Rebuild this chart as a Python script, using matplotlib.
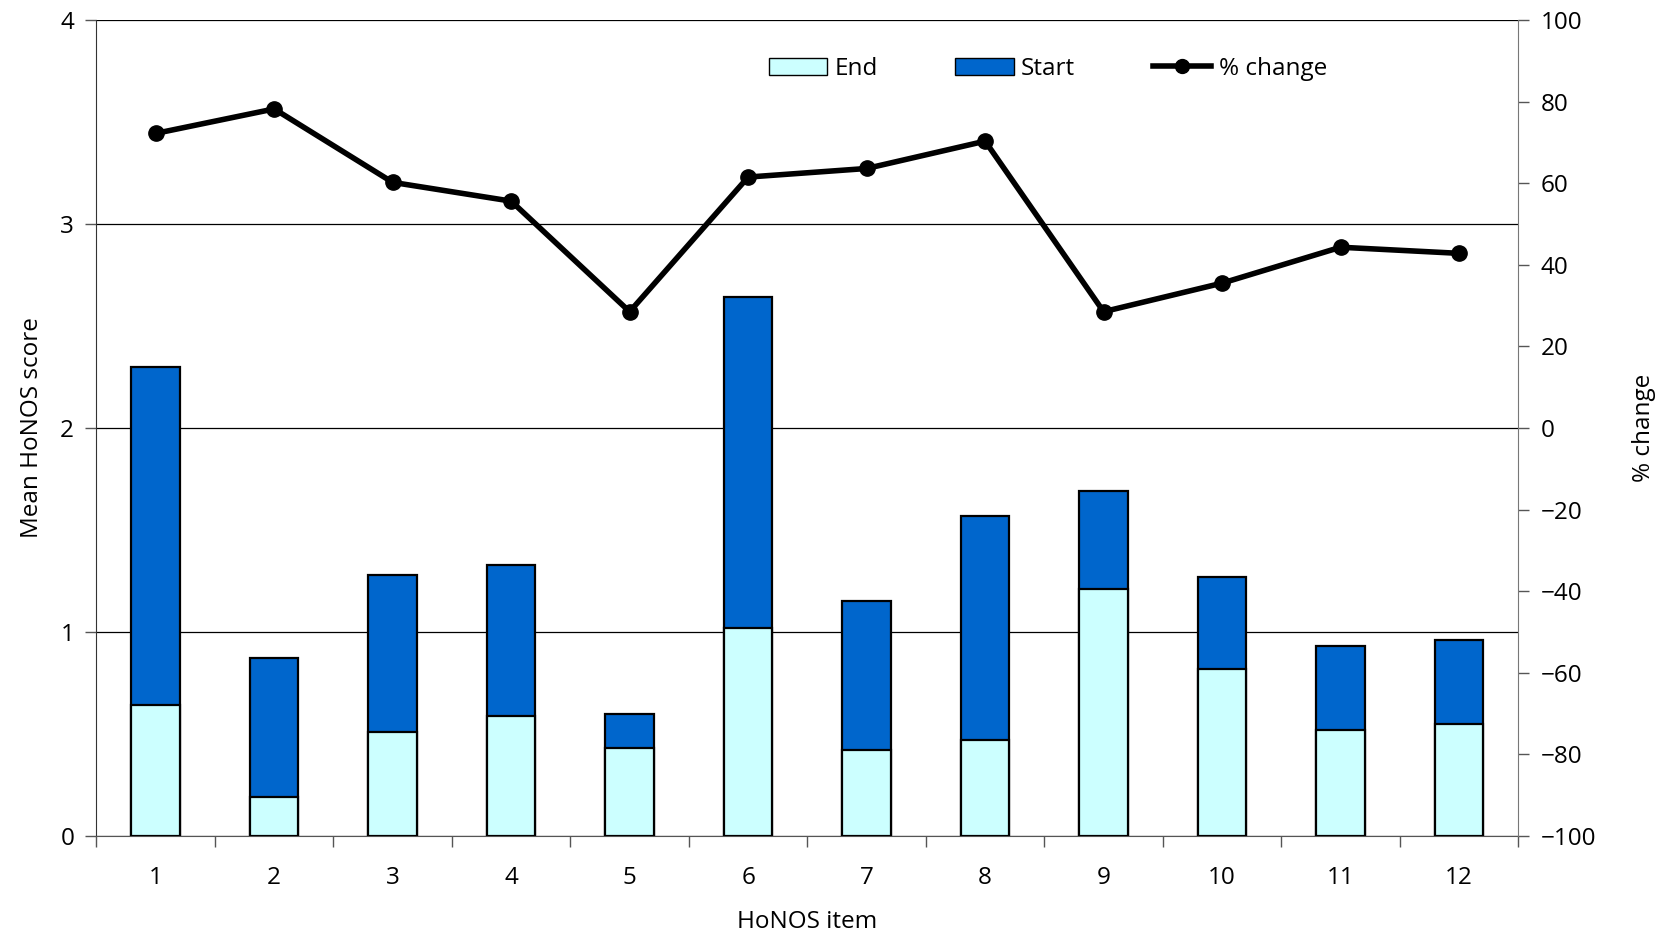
import matplotlib
matplotlib.use("Agg")
import matplotlib.pyplot as plt
import matplotlib.patches as mpatches
from matplotlib.lines import Line2D
import numpy as np

# ── Data ──────────────────────────────────────────────────────────────────────
items       = [1, 2, 3, 4, 5, 6, 7, 8, 9, 10, 11, 12]
start_score = [2.30, 0.87, 1.28, 1.33, 0.60, 2.64, 1.15, 1.57, 1.69, 1.27, 0.93, 0.96]
end_score   = [0.64, 0.19, 0.51, 0.59, 0.43, 1.02, 0.42, 0.47, 1.21, 0.82, 0.52, 0.55]
pct_change  = [72.2, 78.2, 60.2, 55.6, 28.5, 61.5, 63.6, 70.3, 28.5, 35.5, 44.3, 42.8]

START_COLOR = "#0066CC"
END_COLOR   = "#CCFFFF"
FONT        = "Open Sans"
FS          = 17.5

plt.rcParams["font.family"] = [FONT, "DejaVu Sans"]

fig = plt.figure(figsize=(16.63, 9.34), dpi=100)
ax = fig.add_axes([0.058, 0.105, 0.855, 0.8736])

x = np.arange(1, len(items) + 1)
width = 0.41

# Start bar behind, End bar in front (overlapping, not stacked)
ax.bar(x, start_score, width, color=START_COLOR, edgecolor="black", linewidth=1.6, zorder=2)
ax.bar(x, end_score, width, color=END_COLOR, edgecolor="black", linewidth=1.6, zorder=3)

ax.set_xlim(0.5, 12.5)
ax.set_ylim(0, 4)
ax.set_yticks([0, 1, 2, 3, 4])
ax.grid(axis="y", color="black", linewidth=0.9, zorder=0)
ax.set_axisbelow(True)

# major ticks between categories, labels at centres
ax.set_xticks(np.arange(0.5, 13.0, 1.0))
ax.set_xticklabels([])
ax.set_xticks(x, minor=True)
ax.set_xticklabels([str(i) for i in items], minor=True, fontsize=FS)
ax.tick_params(axis="x", which="minor", length=0, pad=22)
ax.tick_params(axis="x", which="major", length=8, width=1, color="#555555", direction="out")
ax.tick_params(axis="y", length=8, width=1, labelsize=FS, color="#555555", pad=8)

for side in ["top", "right"]:
    ax.spines[side].set_visible(False)
ax.spines["left"].set_color("#333333")
ax.spines["bottom"].set_color("#555555")

ax.set_ylabel("Mean HoNOS score", fontsize=FS, labelpad=12)
ax.set_xlabel("HoNOS item", fontsize=FS, labelpad=14)

# ── Secondary axis: % change ─────────────────────────────────────────────────
ax2 = ax.twinx()
ax2.plot(x, pct_change, color="black", linewidth=4, marker="o", markersize=11, zorder=5)
ax2.set_ylim(-100, 100)
ax2.set_yticks(np.arange(-100, 101, 20))
ax2.set_yticklabels([f"\u2212{abs(v)}" if v < 0 else str(v) for v in range(-100, 101, 20)])
ax2.tick_params(axis="y", length=8, width=1, labelsize=FS, color="#555555", pad=8)
for side in ["top", "left", "bottom"]:
    ax2.spines[side].set_visible(False)
ax2.spines["right"].set_color("#777777")
ax2.set_ylabel("% change", fontsize=FS, labelpad=26)

# ── Legend ────────────────────────────────────────────────────────────────────
handles = [
    mpatches.Patch(facecolor=END_COLOR, edgecolor="black", label="End"),
    mpatches.Patch(facecolor=START_COLOR, edgecolor="black", label="Start"),
    Line2D([0], [0], color="black", linewidth=4, marker="o", markersize=10, label="% change"),
]
ax2.legend(handles=handles, loc="center", bbox_to_anchor=(0.669, 0.94), ncol=3,
           frameon=False, fontsize=FS, handlelength=2.4, columnspacing=3.2,
           handletextpad=0.3)

fig.savefig("out.png", dpi=100, facecolor="white")
plt.close(fig)
